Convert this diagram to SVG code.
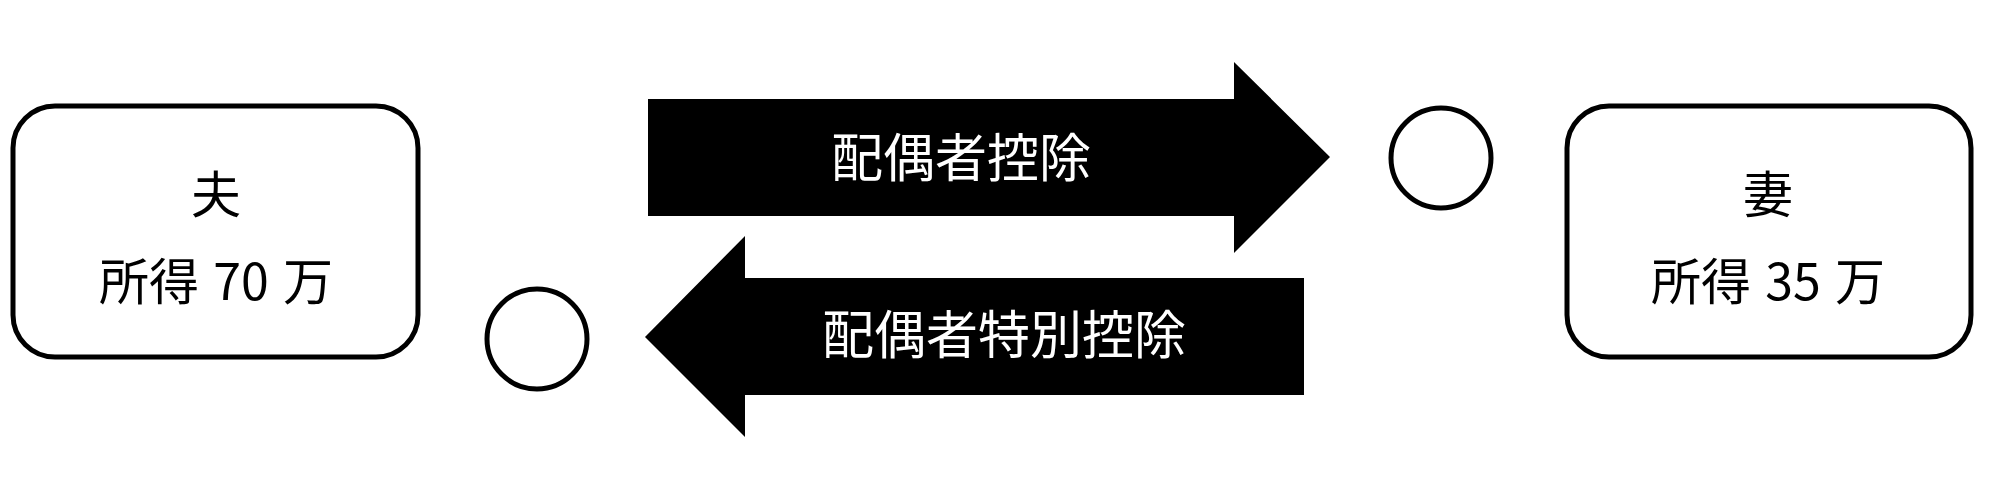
<svg xmlns="http://www.w3.org/2000/svg" width="2000" height="502" viewBox="0 0 2000 502">
<style>
.box{fill:#fff;stroke:#000;stroke-width:5}
.ring{fill:#fff;stroke:#000;stroke-width:5}
.arrow{fill:#000;stroke:none}
.t{font-family:"Noto Sans CJK JP","Noto Sans CJK SC",sans-serif;font-size:50px;fill:#000;text-anchor:middle;word-spacing:3px}
.lbl{font-family:"Noto Sans CJK JP","Noto Sans CJK SC",sans-serif;font-size:52px;fill:#fff;text-anchor:middle}
</style>
<rect width="2000" height="502" fill="#fff"/>
<g id="husband">
<rect class="box" x="13" y="106" width="405" height="251" rx="42" ry="42"/>
<text class="t" x="216" y="213">夫</text>
<text class="t" x="216" y="300">所得 70 万</text>
</g>
<g id="wife">
<rect class="box" x="1567" y="106" width="404" height="251" rx="42" ry="42"/>
<text class="t" x="1768" y="213">妻</text>
<text class="t" x="1768" y="300">所得 35 万</text>
</g>
<g id="circle-wife">
<circle class="ring" cx="1441" cy="158" r="50"/>
</g>
<g id="circle-husband">
<circle class="ring" cx="537" cy="339" r="50"/>
</g>
<g id="connectors">
<g id="arrow-spouse-deduction">
<polygon class="arrow" points="648,99 1234,99 1234,62 1330,157 1234,253 1234,216 648,216"/>
<text class="lbl" x="961" y="177">配偶者控除</text>
</g>
<g id="arrow-special-deduction">
<polygon class="arrow" points="1304,278 745,278 745,236 645,337 745,437 745,395 1304,395"/>
<text class="lbl" x="1004" y="354">配偶者特別控除</text>
</g>
</g>
</svg>
